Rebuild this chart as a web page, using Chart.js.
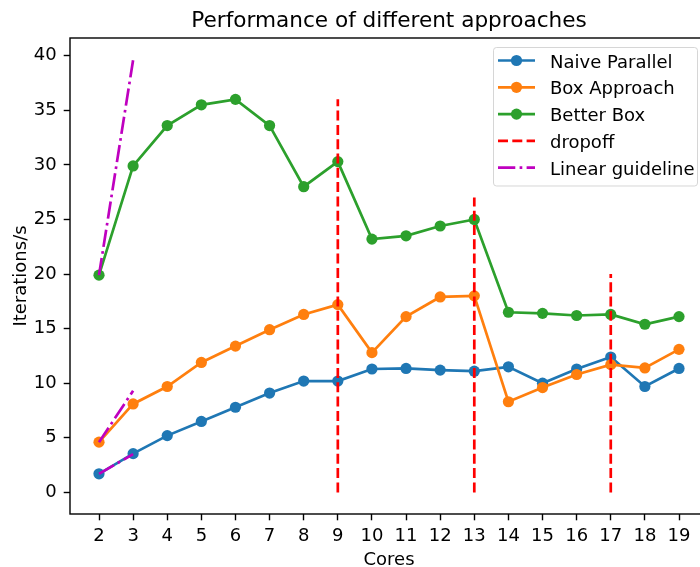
<!DOCTYPE html>
<html>
<head>
<meta charset="utf-8">
<script src="https://cdn.jsdelivr.net/npm/chart.js@4"></script>
<style>
  body { margin: 0; overflow: hidden; background: #fff; }
</style>
</head>
<body>
<canvas id="myChart" width="720" height="567"></canvas>
<script>
// values
const cores = [2, 3, 4, 5, 6, 7, 8, 9, 10, 11, 12, 13, 14, 15, 16, 17, 18, 19];
const naive = [1.7, 3.55, 5.2, 6.5, 7.8, 9.1, 10.2, 10.2, 11.3, 11.35, 11.2, 11.1, 11.5, 10.0, 11.3, 12.4, 9.7, 11.35];
const boxApproach = [4.6, 8.1, 9.7, 11.9, 13.4, 14.9, 16.3, 17.2, 12.8, 16.1, 17.9, 18.0, 8.3, 9.6, 10.8, 11.7, 11.4, 13.1];
const betterBox = [19.9, 29.9, 33.6, 35.5, 36.0, 33.6, 28.0, 30.3, 23.2, 23.5, 24.4, 25.0, 16.5, 16.4, 16.2, 16.3, 15.4, 16.1];

const dropoffCores = [9, 13, 17];
const dropoffTops = [36, 27, 20];

const guideCores = [2, 3];
const guideNaive = [1.7, 3.5];
const guideBox = [4.6, 9.3];
const guideBetter = [19.9, 39.6];

const yTicks = [0, 5, 10, 15, 20, 25, 30, 35, 40];

const FONT = "'DejaVu Sans', sans-serif";
Chart.defaults.font.family = FONT;
Chart.defaults.font.size = 18;
Chart.defaults.color = '#000';

const LW = 2.7;

function pts(xs, ys) {
    return xs.map((x, i) => ({x: x, y: ys[i]}));
}

function series(label, ys, color, order) {
    return {
        label: label,
        data: pts(cores, ys),
        borderColor: color,
        backgroundColor: color,
        borderWidth: LW,
        pointRadius: 5.6,
        pointHoverRadius: 5.6,
        pointBorderWidth: 0,
        order: order,
        kind: 'marker'
    };
}

const datasets = [
    series('Naive Parallel', naive, '#1f77b4', 5),
    series('Box Approach', boxApproach, '#ff7f0e', 4),
    series('Better Box', betterBox, '#2ca02c', 3)
];

dropoffCores.forEach((c, i) => {
    datasets.push({
        label: 'dropoff',
        data: [{x: c, y: 0}, {x: c, y: dropoffTops[i]}],
        borderColor: '#ff0000',
        borderWidth: LW,
        borderDash: [10, 4.3],
        pointRadius: 0,
        order: 2,
        kind: 'dash',
        noLegend: i > 0
    });
});

[guideNaive, guideBox, guideBetter].forEach((g, i) => {
    datasets.push({
        label: 'Linear guideline',
        data: pts(guideCores, g),
        borderColor: '#bf00bf',
        borderWidth: LW,
        borderDash: [17.3, 4.3, 2.7, 4.3],
        pointRadius: 0,
        order: 1,
        kind: 'dashdot',
        noLegend: i > 0
    });
});

// frame, title, axis labels and legend drawn matplotlib style
const mplLook = {
    id: 'mplLook',
    afterDraw(chart) {
        const ctx = chart.ctx;
        const a = chart.chartArea;
        const cx = (a.left + a.right) / 2;
        const cy = (a.top + a.bottom) / 2;
        ctx.save();
        ctx.strokeStyle = '#000';
        ctx.lineWidth = 1.4;
        ctx.strokeRect(a.left, a.top, a.right - a.left, a.bottom - a.top);

        ctx.fillStyle = '#000';
        ctx.textAlign = 'center';
        ctx.textBaseline = 'alphabetic';
        ctx.font = '21.6px ' + FONT;
        ctx.fillText('Performance of different approaches', cx, 27);
        ctx.font = '18px ' + FONT;
        ctx.fillText('Cores', cx, 565);
        ctx.save();
        ctx.translate(25.5, cy);
        ctx.rotate(-Math.PI / 2);
        ctx.fillText('Iterations/s', 0, 0);
        ctx.restore();

        // legend
        const items = chart.data.datasets.filter(d => !d.noLegend);
        const lx = 493.5, ly = 47.5, lw = 204, lh = 138.5, rowH = 26.8;
        ctx.beginPath();
        ctx.roundRect(lx, ly, lw, lh, 3);
        ctx.fillStyle = 'rgba(255,255,255,0.8)';
        ctx.fill();
        ctx.strokeStyle = 'rgba(204,204,204,0.8)';
        ctx.lineWidth = 1;
        ctx.stroke();
        ctx.textAlign = 'left';
        items.forEach((d, i) => {
            const y = 60.5 + i * rowH;
            ctx.strokeStyle = d.borderColor;
            ctx.lineWidth = d.borderWidth;
            ctx.setLineDash(d.borderDash || []);
            ctx.beginPath();
            ctx.moveTo(498, y);
            ctx.lineTo(535, y);
            ctx.stroke();
            ctx.setLineDash([]);
            if (d.kind === 'marker') {
                ctx.fillStyle = d.backgroundColor;
                ctx.beginPath();
                ctx.arc(516.5, y, d.pointRadius, 0, Math.PI * 2);
                ctx.fill();
            }
            ctx.fillStyle = '#000';
            ctx.fillText(d.label, 550, y + 7);
        });
        ctx.restore();
    }
};

const ctx = document.getElementById('myChart').getContext('2d');
const myChart = new Chart(ctx, {
    type: 'line',
    data: { datasets: datasets },
    options: {
        responsive: false,
        animation: false,
        layout: { padding: { top: 38, right: 12, left: 0, bottom: 0 } },
        plugins: {
            legend: { display: false },
            tooltip: { enabled: false }
        },
        scales: {
            x: {
                type: 'linear',
                min: 1.15,
                max: 19.85,
                afterBuildTicks: s => { s.ticks = cores.map(v => ({value: v})); },
                afterFit: s => { s.height = 53; },
                ticks: { padding: 5, maxRotation: 0, autoSkip: false },
                grid: { drawOnChartArea: false, tickLength: 6.3, tickColor: '#000', tickWidth: 1.4 },
                border: { display: false }
            },
            y: {
                min: -1.98,
                max: 41.62,
                afterBuildTicks: s => { s.ticks = yTicks.map(v => ({value: v})); },
                afterFit: s => { s.width = 70; },
                ticks: { padding: 7 },
                grid: { drawOnChartArea: false, tickLength: 6.3, tickColor: '#000', tickWidth: 1.4 },
                border: { display: false }
            }
        }
    },
    plugins: [mplLook]
});
</script>
</body>
</html>
